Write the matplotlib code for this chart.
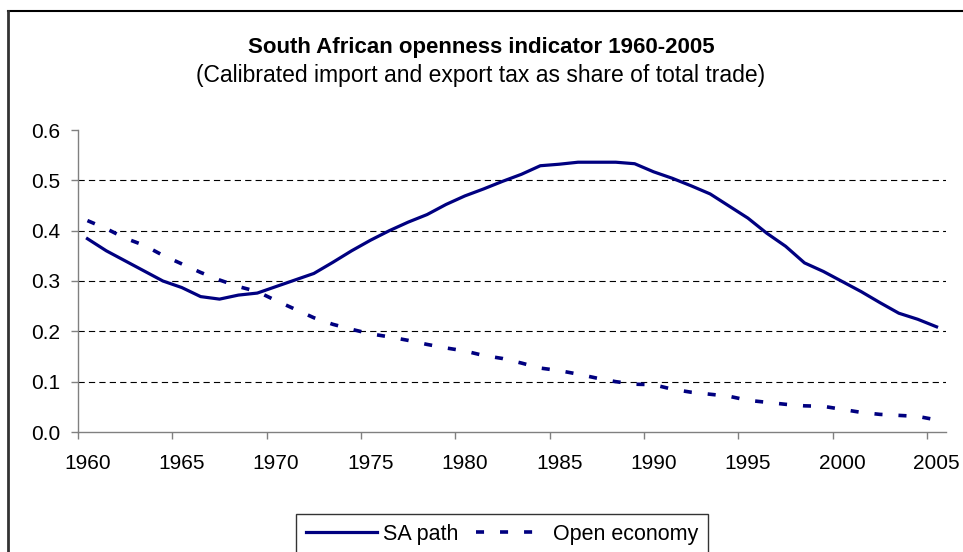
import matplotlib
matplotlib.use("Agg")
import matplotlib.pyplot as plt
from matplotlib.lines import Line2D

plt.rcParams["font.family"] = ["Liberation Sans", "DejaVu Sans"]
plt.rcParams["lines.scale_dashes"] = False

NAVY = "#000080"
AXIS_GREY = "#808080"

years = list(range(1960, 2006))
sa_path = [
    0.384, 0.360, 0.340, 0.320, 0.300, 0.287, 0.269, 0.264, 0.272, 0.276,
    0.289, 0.302, 0.315, 0.337, 0.360, 0.381, 0.400, 0.417, 0.432, 0.452,
    0.469, 0.483, 0.498, 0.512, 0.529, 0.532, 0.536, 0.536, 0.536, 0.533,
    0.517, 0.504, 0.489, 0.473, 0.449, 0.425, 0.395, 0.369, 0.336, 0.319,
    0.299, 0.279, 0.257, 0.236, 0.224, 0.209,
]
open_economy = [
    0.420, 0.404, 0.385, 0.371, 0.351, 0.334, 0.317, 0.302, 0.289, 0.279,
    0.261, 0.244, 0.227, 0.214, 0.204, 0.195, 0.189, 0.182, 0.174, 0.167,
    0.161, 0.152, 0.146, 0.137, 0.127, 0.122, 0.115, 0.107, 0.100, 0.095,
    0.094, 0.085, 0.079, 0.075, 0.071, 0.063, 0.059, 0.055, 0.052, 0.051,
    0.045, 0.039, 0.035, 0.033, 0.031, 0.024,
]
y_ticks = [0.0, 0.1, 0.2, 0.3, 0.4, 0.5, 0.6]
x_label_years = list(range(1960, 2006, 5))

W, H = 963, 552
fig = plt.figure(figsize=(W / 100, H / 100), dpi=100)
fig.patch.set_facecolor("white")

# outer chart frame (right and bottom edges fall outside the image)
fig.add_artist(Line2D([7.5 / W, 1.0], [1 - 10.5 / H, 1 - 10.5 / H],
                     transform=fig.transFigure, color="black", lw=1.5))
fig.add_artist(Line2D([7.5 / W, 7.5 / W], [0.0, 1 - 10.5 / H],
                     transform=fig.transFigure, color="#333333", lw=2))

ax = fig.add_axes([78 / W, 1 - 432 / H, 868 / W, (432 - 130) / H])

for y in y_ticks[1:-1]:
    ax.axhline(y, color="black", lw=0.8, dashes=(4.5, 3), zorder=1)

ax.plot(years, sa_path, color=NAVY, lw=2.3, label="SA path", zorder=3,
        solid_joinstyle="round")
ax.plot(years, open_economy, color=NAVY, lw=2.6, dashes=(5.8, 11.5),
        label="Open economy", zorder=3)

ax.set_xlim(1959.5, 2005.5)
ax.set_ylim(0, 0.6)
ax.set_yticks(y_ticks)
ax.set_yticklabels([f"{v:.1f}" for v in y_ticks])

# category axis: tick marks between categories, labels on the category centre
ax.set_xticks([y - 0.5 for y in x_label_years])
ax.set_xticklabels([])
ax.set_xticks(x_label_years, minor=True)
ax.set_xticklabels([str(y) for y in x_label_years], minor=True)
ax.tick_params(axis="x", which="minor", length=0, pad=16, labelsize=15)
ax.tick_params(axis="x", which="major", length=5, color=AXIS_GREY, width=1)
ax.tick_params(axis="y", length=5, color=AXIS_GREY, width=1, pad=8,
               labelsize=15)

for s in ("top", "right"):
    ax.spines[s].set_visible(False)
for s in ("left", "bottom"):
    ax.spines[s].set_color(AXIS_GREY)
    ax.spines[s].set_linewidth(1)

fig.text(481 / W, 1 - 47 / H, "South African openness indicator 1960-2005",
         ha="center", va="center", fontsize=16, fontweight="bold")
fig.text(481 / W, 1 - 76 / H,
         "(Calibrated import and export tax as share of total trade)",
         ha="center", va="center", fontsize=16.5)

leg = fig.legend(loc="upper left", bbox_to_anchor=(296 / W, 1 - 514 / H),
                 ncol=2, frameon=True, fancybox=False, fontsize=15.5,
                 handlelength=3.3, handletextpad=0.3, columnspacing=0.8,
                 borderpad=0.45, borderaxespad=0)
leg.get_frame().set_edgecolor("black")
leg.get_frame().set_linewidth(1)

fig.savefig("out.png", dpi=100, facecolor="white")
